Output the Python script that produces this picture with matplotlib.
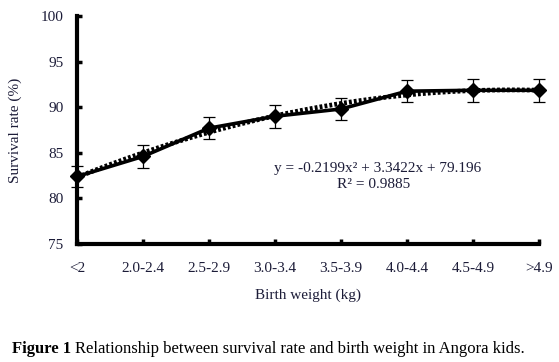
import matplotlib.pyplot as plt
import numpy as np

# data
categories = ['<2', '2.0-2.4', '2.5-2.9', '3.0-3.4', '3.5-3.9', '4.0-4.4', '4.5-4.9', '>4.9']
survival = [82.4, 84.6, 87.7, 89.0, 89.8, 91.75, 91.85, 91.85]
errors = [1.2, 1.25, 1.2, 1.25, 1.25, 1.2, 1.25, 1.25]
# quadratic trend line coefficients as printed on the chart (x = 1..8)
trend_coef = [-0.2199, 3.3422, 79.196]
y_ticks = [75, 80, 85, 90, 95, 100]

txt = '#1c1c38'
plt.rcParams['font.family'] = ['Liberation Serif', 'DejaVu Serif']

fig = plt.figure(figsize=(5.59, 3.62), dpi=100)
ax = fig.add_axes([0.138, 0.326, 0.826, 0.630])

xpos = np.arange(len(categories))
xs = np.linspace(0, len(categories) - 1, 200)
ax.plot(xs, np.polyval(trend_coef, xs + 1), color='black', lw=3.4,
        linestyle=(0, (0.6, 0.45)), zorder=2)
ax.errorbar(xpos, survival, yerr=errors, color='black', lw=2.6, marker='D',
            markersize=7.5, ecolor='black', elinewidth=0.9, capsize=4.5,
            capthick=0.9, zorder=3, clip_on=False)

ax.set_xlim(0, len(categories) - 1)
ax.set_ylim(75, 100)
ax.set_xticks(xpos)
ax.set_xticklabels(categories)
ax.set_yticks(y_ticks)

for s in ['top', 'right']:
    ax.spines[s].set_visible(False)
for s in ['left', 'bottom']:
    ax.spines[s].set_linewidth(3)

ax.tick_params(axis='both', direction='in', length=3.5, width=2.5,
               labelsize=11, labelcolor=txt)
ax.tick_params(axis='y', pad=10)
ax.tick_params(axis='x', pad=13)

ax.set_ylabel('Survival rate (%)', fontsize=11, color=txt, labelpad=13)
ax.set_xlabel('Birth weight (kg)', fontsize=11, color=txt, labelpad=10)

ax.text(4.55, 83.3, 'y = -0.2199x² + 3.3422x + 79.196', fontsize=11,
        color=txt, ha='center', va='center')
ax.text(4.50, 81.5, 'R² = 0.9885', fontsize=11, color=txt,
        ha='center', va='center')

# caption: bold label, then the rest right after it
lab = fig.text(0.022, 0.036, 'Figure 1', fontsize=12, fontweight='bold', va='center')
fig.canvas.draw()
bb = lab.get_window_extent().transformed(fig.transFigure.inverted())
fig.text(bb.x1 + 0.007, 0.036,
         'Relationship between survival rate and birth weight in Angora kids.',
         fontsize=12, va='center')

fig.savefig('out.png', dpi=100)
